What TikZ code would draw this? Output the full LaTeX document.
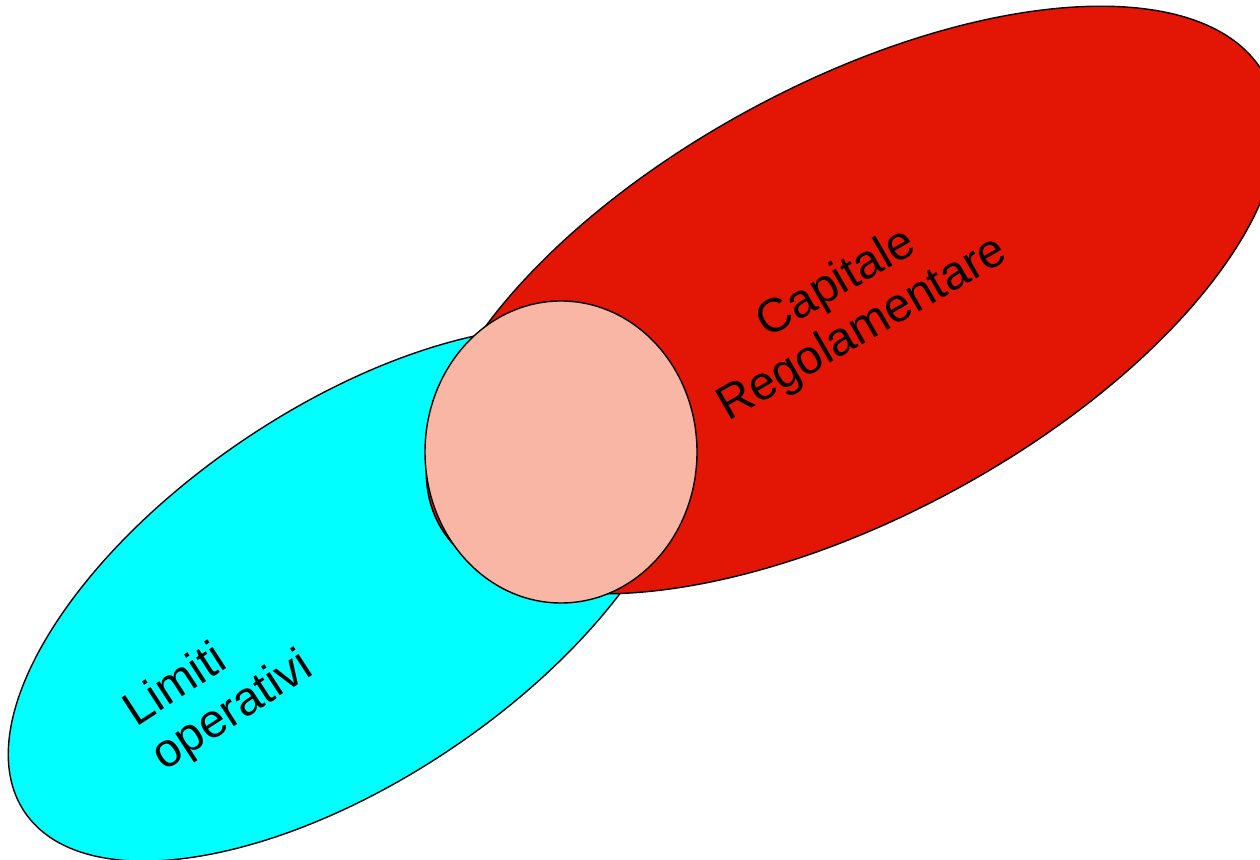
\documentclass[tikz,border=0pt]{standalone}
\usepackage{fontspec}
\setmainfont{Liberation Sans}
\usepackage{xcolor}
\usepackage{tikz}

\definecolor{capred}{RGB}{227,21,5}
\definecolor{limcyan}{RGB}{0,255,255}
\definecolor{overlap}{RGB}{249,182,165}

\tikzset{
    blob/.style={draw=black, line width=0.8pt},
    blobtext/.style={font=\fontsize{27}{30}\selectfont, inner sep=0pt}
}

\begin{document}
\begin{tikzpicture}[x=0.02cm, y=0.02cm]
    \useasboundingbox (0,0) rectangle (1260,859);
    \clip (0,0) rectangle (1260,859);
    \coordinate (L) at (348, 265);
    \coordinate (R) at (852, 559);
    \coordinate (M) at (561, 407);
    \draw[blob, fill=limcyan, rotate around={34:(L)}] (L) ellipse [x radius=390, y radius=186];
    \draw[blob, fill=capred, rotate around={28.5:(R)}] (R) ellipse [x radius=470, y radius=216];
    \draw[blob, fill=overlap] (M) ellipse [x radius=136, y radius=151];
    \node[blobtext, rotate=30, align=center] (cap) at (850, 552) {Capitale\\Regolamentare};
    \node[blobtext, rotate=33, align=left] (lim) at (219, 169) {Limiti\\operativi};
\end{tikzpicture}
\end{document}
